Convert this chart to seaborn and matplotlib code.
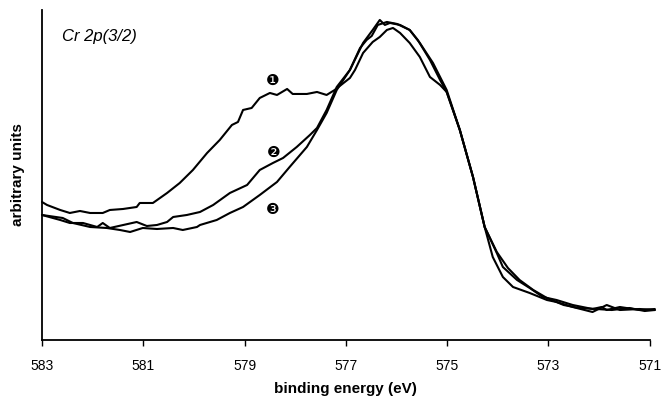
import numpy as np
import pandas as pd
import matplotlib
matplotlib.use("Agg")
import matplotlib.pyplot as plt
import seaborn as sns

# Binding energies (eV) and intensities (arbitrary units)
energy_1 = [583.00, 582.90, 582.64, 582.45, 582.25, 582.05, 581.80, 581.66, 581.40, 581.13,
            581.07, 580.81, 580.53, 580.28, 580.02, 579.74, 579.49, 579.25, 579.13, 579.03,
            578.86, 578.70, 578.50, 578.36, 578.16, 578.05, 577.77, 577.57, 577.38, 577.22,
            576.92, 576.82, 576.66, 576.47, 576.33, 576.19, 576.07, 575.93, 575.74, 575.54,
            575.34, 575.14, 575.01, 574.75, 574.49, 574.26, 574.10, 573.90, 573.70, 573.37,
            573.03, 572.84, 572.52, 572.13, 571.85, 571.59, 571.20, 570.90]
intensity_1 = [138, 135, 130, 127, 129, 127, 127, 130, 131, 133,
               137, 137, 147, 157, 170, 187, 200, 215, 218, 230,
               232, 242, 247, 245, 251, 246, 246, 248, 245, 250,
               262, 270, 287, 298, 303, 310, 312, 307, 297, 283,
               263, 255, 248, 210, 163, 113, 83, 63, 53, 47,
               40, 38, 33, 28, 35, 30, 31, 30]

energy_2 = [583.00, 582.64, 582.45, 582.19, 581.91, 581.80, 581.66, 581.13, 580.93, 580.73,
            580.53, 580.41, 580.14, 579.88, 579.62, 579.29, 578.95, 578.70, 578.44, 578.24,
            577.97, 577.71, 577.57, 577.38, 577.18, 576.92, 576.66, 576.47, 576.33, 576.23,
            576.13, 575.93, 575.74, 575.58, 575.34, 575.14, 575.01, 574.75, 574.49, 574.26,
            574.02, 573.90, 573.62, 573.37, 573.11, 572.84, 572.52, 572.13, 571.95, 571.85,
            571.59, 571.20, 570.90]
intensity_2 = [125, 120, 117, 117, 113, 117, 112, 118, 114, 115,
               118, 123, 125, 128, 135, 147, 155, 170, 177, 182,
               193, 205, 212, 230, 253, 270, 297, 310, 320, 315,
               317, 315, 310, 300, 280, 260, 248, 210, 163, 113,
               87, 73, 60, 52, 43, 40, 35, 31, 33, 30,
               33, 30, 31]

energy_3 = [583.00, 582.59, 582.39, 582.05, 581.72, 581.46, 581.26, 581.01, 580.73, 580.41,
            580.22, 579.94, 579.88, 579.55, 579.29, 579.03, 578.70, 578.36, 578.11, 577.77,
            577.57, 577.38, 577.18, 576.92, 576.72, 576.59, 576.49, 576.37, 576.19, 575.99,
            575.74, 575.54, 575.28, 575.01, 574.75, 574.49, 574.26, 574.02, 573.80, 573.57,
            573.30, 573.03, 572.70, 572.40, 572.05, 571.75, 571.40, 571.10, 570.90]
intensity_3 = [125, 122, 117, 113, 112, 110, 108, 112, 111, 112,
               110, 113, 115, 120, 127, 133, 145, 158, 173, 193,
               210, 227, 250, 270, 292, 300, 304, 315, 318, 316,
               310, 297, 277, 250, 210, 163, 113, 88, 72, 60,
               50, 42, 35, 32, 31, 30, 32, 29, 30]

series_names = ["1", "2", "3"]
label_text = ["\u2776", "\u2777", "\u2778"]
label_energy = [578.44, 578.42, 578.44]
label_intensity = [260, 188, 130]

xtick_values = [583, 581, 579, 577, 575, 573, 571]

frames = []
for name, e, v in zip(series_names, [energy_1, energy_2, energy_3],
                      [intensity_1, intensity_2, intensity_3]):
    frames.append(pd.DataFrame({"energy": e, "intensity": v, "curve": name}))
df = pd.concat(frames, ignore_index=True)

sns.set_theme(style="white")
plt.rcParams["font.family"] = ["Liberation Sans", "DejaVu Sans"]
plt.rcParams["text.color"] = "black"
plt.rcParams["axes.labelcolor"] = "black"
plt.rcParams["xtick.color"] = "black"

fig = plt.figure(figsize=(6.61, 3.98), dpi=100)
ax = fig.add_axes([0.0635, 0.1457, 0.9195, 0.8293])

sns.lineplot(data=df, x="energy", y="intensity", units="curve", estimator=None,
             sort=False, color="black", linewidth=1.5, ax=ax, legend=False)
for line in ax.get_lines():
    line.set_clip_on(False)

for t, e, v in zip(label_text, label_energy, label_intensity):
    ax.text(e, v, t, fontsize=11, ha="center", va="center", color="black",
            family=["DejaVu Sans"])

ax.set_xlim(583, 571)
ax.set_ylim(0, 330)
ax.set_xticks(xtick_values)
ax.set_xticklabels([str(x) for x in xtick_values], fontsize=10, color="black")
ax.set_yticks([])
ax.tick_params(axis="x", direction="out", length=4, width=1, color="black", pad=10, bottom=True)

for s in ["top", "right"]:
    ax.spines[s].set_visible(False)
for s in ["left", "bottom"]:
    ax.spines[s].set_color("black")
    ax.spines[s].set_linewidth(1.3)

ax.set_xlabel("binding energy (eV)", fontsize=11, fontweight="bold", labelpad=6, color="black")
ax.set_ylabel("arbitrary units", fontsize=11, fontweight="bold", labelpad=12, color="black")

ax.text(582.6, 303, "Cr 2p(3/2)", fontsize=12, style="italic", ha="left", va="center",
        color="black")

fig.savefig("out.png", dpi=100)
